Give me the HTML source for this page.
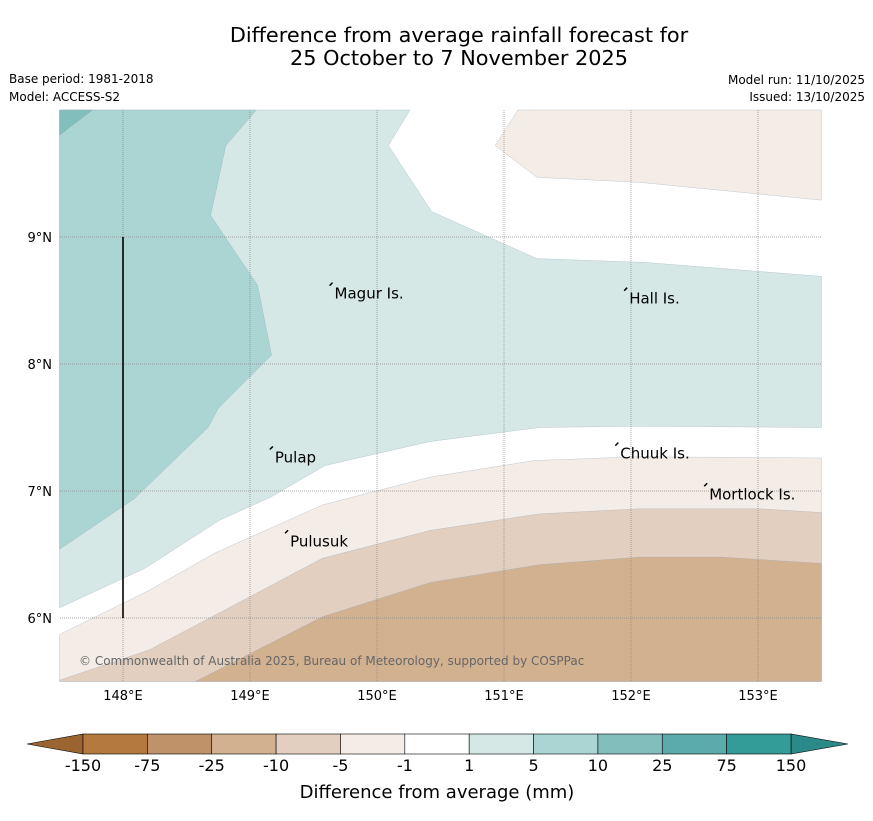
<!DOCTYPE html>
<html><head><meta charset="utf-8"><style>
body{margin:0;background:#fff;font-family:"Liberation Sans","DejaVu Sans",sans-serif}
svg text{font-family:"DejaVu Sans","Liberation Sans",sans-serif}
</style></head><body>
<svg id="chart" width="873" height="816" xmlns="http://www.w3.org/2000/svg">
<rect width="873" height="816" fill="#fff"/>
<text x="459" y="42" font-size="20.8" text-anchor="middle">Difference from average rainfall forecast for</text>
<text x="459" y="65" font-size="20.8" text-anchor="middle">25 October to 7 November 2025</text>
<text x="9" y="83" font-size="12">Base period: 1981-2018</text>
<text x="9" y="101" font-size="12">Model: ACCESS-S2</text>
<text x="865" y="84" font-size="12" text-anchor="end">Model run: 11/10/2025</text>
<text x="865" y="101" font-size="12" text-anchor="end">Issued: 13/10/2025</text>
<g id="map"></g>
<g id="cbar"></g>
<text x="437" y="798" font-size="18" text-anchor="middle">Difference from average (mm)</text>
</svg>
<script>
const lonTicks=[148,149,150,151,152,153];
const latTicks=[6,7,8,9];
const levelLabels=["-150","-75","-25","-10","-5","-1","1","5","10","25","75","150"];
const levelColors=["#b3793e","#c0926a","#d2b190","#e2cfbf","#f4ece6","#ffffff","#d5e8e6","#aad5d3","#81bebc","#5aabaa","#339b98"];
const places=[["Magur Is.",149.65,8.57],["Hall Is.",151.97,8.53],["Pulap",149.18,7.28],["Chuuk Is.",151.9,7.31],["Mortlock Is.",152.6,6.99],["Pulusuk",149.3,6.62]];
const brown1=[[147.5,5.87],[148.21,6.22],[148.72,6.51],[149.57,6.89],[150.42,7.11],[151.24,7.24],[152.07,7.27],[153.5,7.26],[153.5,5.5],[147.5,5.5]];
const brown2=[[147.5,5.51],[148.21,5.75],[148.72,6.02],[149.57,6.47],[150.42,6.69],[151.28,6.82],[152.07,6.86],[153.02,6.86],[153.5,6.83],[153.5,5.5],[147.5,5.5]];
const brown3=[[148.57,5.5],[149.57,6.01],[150.42,6.28],[151.28,6.42],[152.07,6.48],[152.7,6.48],[153.5,6.43],[153.5,5.5]];
const brownTop=[[151.11,10],[150.93,9.72],[151.26,9.47],[152.07,9.43],[153.5,9.29],[153.5,10]];
const teal1=[[147.5,10],[150.26,10],[150.09,9.72],[150.43,9.2],[151.26,8.83],[152.11,8.8],[153.5,8.69],[153.5,7.5],[152.07,7.51],[151.28,7.5],[150.42,7.39],[149.59,7.2],[149.16,6.95],[148.76,6.77],[148.17,6.39],[147.5,6.08]];
const teal2=[[147.5,10],[149.05,10],[148.81,9.72],[148.69,9.17],[149.06,8.62],[149.17,8.07],[148.75,7.65],[148.67,7.5],[148.09,6.94],[147.5,6.54]];
const teal3=[[147.5,10],[147.76,10],[147.5,9.8]];
const X=l=>59.5+(l-147.5)*127, Y=t=>110+(10-t)*127;
const NS="http://www.w3.org/2000/svg";
const map=document.getElementById('map');
function mk(tag,at,parent){const e=document.createElementNS(NS,tag);for(const k in at)e.setAttribute(k,at[k]);parent.appendChild(e);return e;}
const polys=[[brown1,4,'contour-minus5'],[brown2,3,'contour-minus10'],[brown3,2,'contour-minus25'],[brownTop,4,'contour-minus5-north'],[teal1,6,'contour-plus1'],[teal2,7,'contour-plus5'],[teal3,8,'contour-plus10']];
for(const [pts,ci,nm] of polys){
 const p=mk('polygon',{points:pts.map(q=>X(q[0])+','+Y(q[1])).join(' '),fill:levelColors[ci],stroke:'#9ab',"stroke-width":0.3},map);
 
 
}
for(const l of lonTicks){
 const g=mk('line',{x1:X(l),x2:X(l),y1:110,y2:681,stroke:'#888',"stroke-width":0.7,"stroke-dasharray":"1,1"},map);
 
 
 const t=mk('text',{x:X(l),y:700,"font-size":13,"text-anchor":"middle"},map);t.textContent=l+'°E';
 
 
}
for(const l of latTicks){
 const g=mk('line',{x1:60,x2:822,y1:Y(l),y2:Y(l),stroke:'#888',"stroke-width":0.7,"stroke-dasharray":"1,1"},map);
 
 
 const t=mk('text',{x:52,y:Y(l)+5,"font-size":13,"text-anchor":"end"},map);t.textContent=l+'°N';
 
 
}
const bl=mk('line',{x1:X(148),x2:X(148),y1:Y(9),y2:Y(6),stroke:'#000',"stroke-width":1.6},map);


for(const [n,lo,la] of places){
 mk('path',{d:`M${X(lo)-3} ${Y(la)-6} l3 -3`,stroke:'#000',"stroke-width":1.5},map);
 const t=mk('text',{x:X(lo)+2,y:Y(la)+7,"font-size":15},map);t.textContent=n;
 
 
}
const cp=mk('text',{x:79,y:665,"font-size":12,fill:'#666'},map);cp.textContent='© Commonwealth of Australia 2025, Bureau of Meteorology, supported by COSPPac';


const cb=document.getElementById('cbar');
const x0=83,x1=791,w=(x1-x0)/levelColors.length,y0=734,h=20;
const lt=mk('polygon',{points:`27,744 ${x0},${y0} ${x0},${y0+h}`,fill:'#9a6530',stroke:'#000',"stroke-width":0.6},cb);


const rt=mk('polygon',{points:`848,744 ${x1},${y0} ${x1},${y0+h}`,fill:'#2a8a87',stroke:'#000',"stroke-width":0.6},cb);


levelColors.forEach((c,i)=>{
 const r=mk('rect',{x:x0+i*w,y:y0,width:w,height:h,fill:c,stroke:'#000',"stroke-width":0.6},cb);
 
 
});
levelLabels.forEach((s,i)=>{
 const t=mk('text',{x:x0+i*w,y:771,"font-size":16,"text-anchor":"middle"},cb);t.textContent=s;
 
 
});
</script>
</body></html>
